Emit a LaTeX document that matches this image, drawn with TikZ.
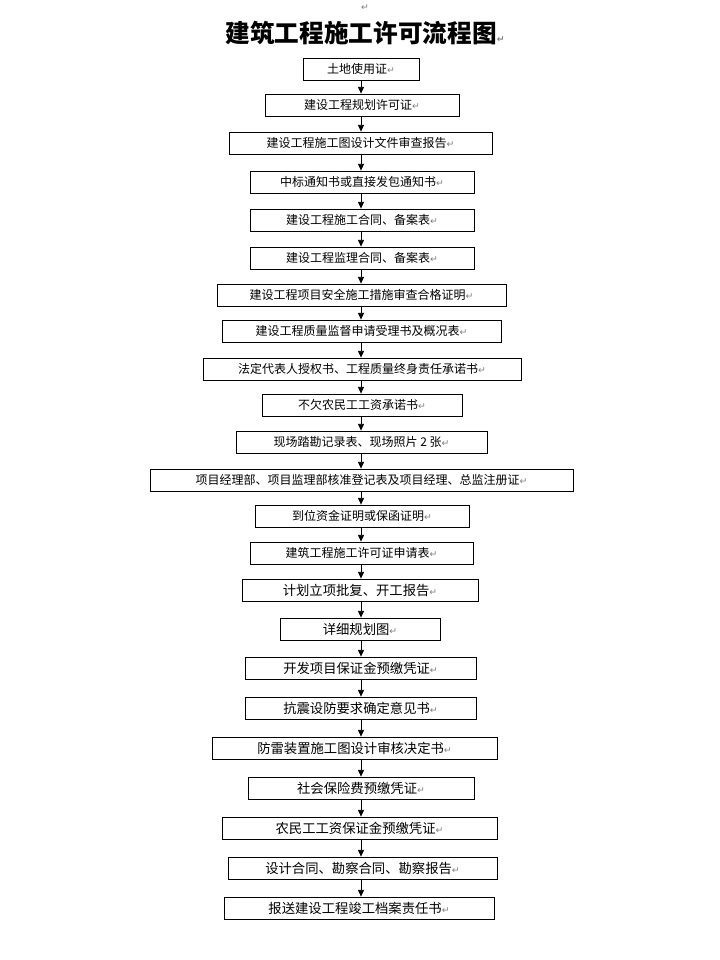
\documentclass[tikz,border=0pt]{standalone}
\usepackage{fontspec}
\setmainfont{Noto Sans CJK SC}
\newfontfamily\symf{DejaVu Sans}
\usetikzlibrary{arrows.meta}
\newcommand{\rt}{{\symf\color{gray}\fontsize{7pt}{7pt}\selectfont ↵}}
\begin{document}
\begin{tikzpicture}[x=0.75pt,y=-0.75pt,
  bx/.style={draw,line width=0.6pt,inner sep=0pt,minimum height=16.5pt,font=\fontsize{9pt}{10pt}\selectfont},
  ar/.style={-{Triangle[length=5pt,width=4.5pt]},line width=0.6pt}]
\fill[white] (0,0) rectangle (720,960);
\node[font=\fontsize{18.5pt}{20pt}\selectfont\bfseries] (t) at (365,33) {建筑工程施工许可流程图\rt};
\node (r0) at (365,8) {\rt};
\def\B#1#2#3#4#5{\node[bx,minimum width={(#4-#3)*0.75pt}] (#1) at ({(#3+#4)/2},#2) {#5\rt};}
\B{b1}{69}{303}{419}{土地使用证}
\B{b2}{105}{265}{459}{建设工程规划许可证}
\B{b3}{143}{229}{492}{建设工程施工图设计文件审查报告}
\B{b4}{182}{250}{474}{中标通知书或直接发包通知书}
\B{b5}{220}{250}{474}{建设工程施工合同、备案表}
\B{b6}{258}{250}{474}{建设工程监理合同、备案表}
\B{b7}{295}{217}{506}{建设工程项目安全施工措施审查合格证明}
\B{b8}{331}{222}{501}{建设工程质量监督申请受理书及概况表}
\B{b9}{369}{203}{521}{法定代表人授权书、工程质量终身责任承诺书}
\B{b10}{405}{262}{462}{不欠农民工工资承诺书}
\B{b11}{442}{236}{487}{现场踏勘记录表、现场照片 2 张}
\B{b12}{480}{150}{573}{项目经理部、项目监理部核准登记表及项目经理、总监注册证}
\B{b13}{516}{255}{469}{到位资金证明或保函证明}
\B{b14}{553}{250}{473}{建筑工程施工许可证申请表}
\B{b15}{590}{242}{478}{\fontsize{10pt}{12pt}\selectfont 计划立项批复、开工报告}
\B{b16}{629}{280}{440}{\fontsize{10pt}{12pt}\selectfont 详细规划图}
\B{b17}{668}{245}{476}{\fontsize{10pt}{12pt}\selectfont 开发项目保证金预缴凭证}
\B{b18}{708}{245}{476}{\fontsize{10pt}{12pt}\selectfont 抗震设防要求确定意见书}
\B{b19}{748}{212}{497}{\fontsize{10pt}{12pt}\selectfont 防雷装置施工图设计审核决定书}
\B{b20}{788}{248}{474}{\fontsize{10pt}{12pt}\selectfont 社会保险费预缴凭证}
\B{b21}{828}{222}{497}{\fontsize{10pt}{12pt}\selectfont 农民工工资保证金预缴凭证}
\B{b22}{868}{228}{497}{\fontsize{10pt}{12pt}\selectfont 设计合同、勘察合同、勘察报告}
\B{b23}{908}{224}{494}{\fontsize{10pt}{12pt}\selectfont 报送建设工程竣工档案责任书}
\foreach \i [evaluate=\i as \j using int(\i+1)] in {1,...,22}
  \draw[ar] (b\i.south -| 361,0) -- (b\j.north -| 361,0);
\end{tikzpicture}
\end{document}
